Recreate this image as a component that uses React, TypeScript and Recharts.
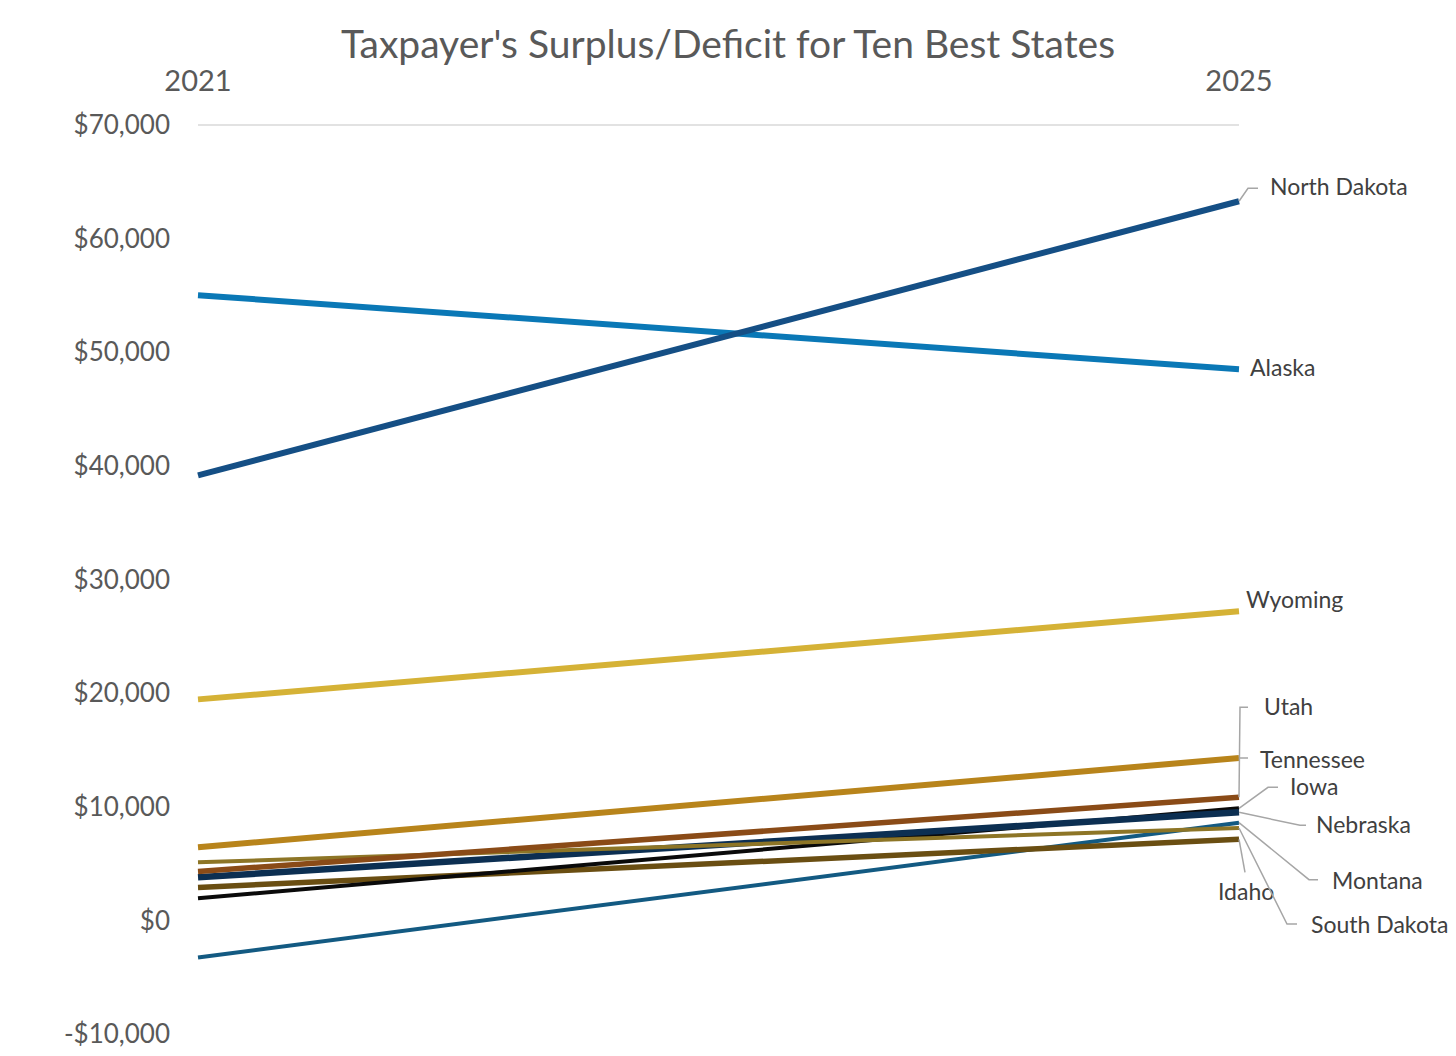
// Taxpayer's surplus/deficit, ten best states, 2021 vs 2025 (slope chart)
import { LineChart, Line, XAxis, YAxis, LabelList } from "recharts";

const years = ["2021", "2025"];
const yTicks = [-10000, 0, 10000, 20000, 30000, 40000, 50000, 60000, 70000];

const northDakota = [39170, 63290];
const alaska = [55020, 48500];
const wyoming = [19450, 27200];
const tennessee = [6430, 14290];
const utah = [4310, 10830];
const iowa = [1940, 9860];
const nebraska = [3790, 9510];
const montana = [-3260, 8600];
const southDakota = [5110, 8130];
const idaho = [2900, 7130];

// drawing order: first is at the bottom
const series = [
  { key: "mt", name: "Montana", values: montana },
  { key: "id", name: "Idaho", values: idaho },
  { key: "ia", name: "Iowa", values: iowa },
  { key: "ne", name: "Nebraska", values: nebraska },
  { key: "sd", name: "South Dakota", values: southDakota },
  { key: "ut", name: "Utah", values: utah },
  { key: "tn", name: "Tennessee", values: tennessee },
  { key: "wy", name: "Wyoming", values: wyoming },
  { key: "ak", name: "Alaska", values: alaska },
  { key: "nd", name: "North Dakota", values: northDakota },
];

const chartData = years.map((year, i) => {
  const row: Record<string, string | number> = { year };
  series.forEach((s) => {
    row[s.key] = s.values[i];
  });
  return row;
});

const lineStyle: Record<string, { color: string; width: number }> = {
  nd: { color: "#154f85", width: 6 },
  ak: { color: "#0a78b6", width: 6 },
  wy: { color: "#d5b236", width: 6 },
  tn: { color: "#b8841b", width: 6 },
  ut: { color: "#8a4b17", width: 5.5 },
  ia: { color: "#0a0a0a", width: 4 },
  ne: { color: "#0c2f52", width: 6.5 },
  mt: { color: "#135a82", width: 4 },
  sd: { color: "#8d7526", width: 4 },
  id: { color: "#6a4e12", width: 5.5 },
};

// label offset from the 2025 point, and leader line bends (relative)
const labelPlace: Record<string, { dx: number; dy: number; leader: number[][] }> = {
  nd: { dx: 31, dy: -14, leader: [[9, -13], [19, -13]] },
  ak: { dx: 11, dy: -1, leader: [] },
  wy: { dx: 7, dy: -11, leader: [] },
  ut: { dx: 25, dy: -90, leader: [[1, -90], [9, -90]] },
  tn: { dx: 21, dy: 2, leader: [[9, 0]] },
  ia: { dx: 51, dy: -21, leader: [[29, -21], [39, -21]] },
  ne: { dx: 77, dy: 13, leader: [[61, 13], [67, 13]] },
  mt: { dx: 93, dy: 58, leader: [[70, 57], [79, 57]] },
  sd: { dx: 72, dy: 97, leader: [[48, 96], [58, 96]] },
  id: { dx: -21, dy: 53, leader: [[6, 33]] },
};

const fmtMoney = (v: number) =>
  v < 0 ? `-$${Math.abs(v).toLocaleString("en-US")}` : `$${v.toLocaleString("en-US")}`;

const font = "Lato, 'Open Sans', sans-serif";

function makeLabel(key: string, name: string) {
  const place = labelPlace[key];
  return (props: any) => {
    if (props.index !== years.length - 1) return null;
    const x = Number(props.x);
    const y = Number(props.y);
    const pts = [[0, 0], ...place.leader].map(([a, b]) => `${x + a},${y + b}`).join(" ");
    return (
      <g>
        {place.leader.length > 0 && (
          <polyline points={pts} fill="none" stroke="#a6a6a6" strokeWidth={1.5} />
        )}
        <text
          x={x + place.dx}
          y={y + place.dy}
          dy="0.35em"
          fontFamily={font}
          fontSize={23}
          fill="#404040"
        >
          {name}
        </text>
      </g>
    );
  };
}

export default function App() {
  return (
    <div style={{ position: "absolute", left: 0, top: 0, width: 1456, height: 1056, background: "#fff" }}>
      <div
        style={{
          position: "absolute",
          left: 0,
          top: 18,
          width: 1456,
          textAlign: "center",
          fontFamily: font,
          fontSize: 39,
          color: "#595959",
          lineHeight: "50px",
        }}
      >
        Taxpayer's Surplus/Deficit for Ten Best States
      </div>
      <LineChart
        width={1456}
        height={1056}
        data={chartData}
        margin={{ top: 0, right: 217, bottom: 22, left: 0 }}
      >
        <XAxis
          dataKey="year"
          orientation="top"
          height={125}
          axisLine={{ stroke: "#d9d9d9", strokeWidth: 1.5 }}
          tickLine={false}
          tickSize={0}
          tickMargin={34}
          tick={{ fill: "#595959", fontSize: 29, fontFamily: font }}
        />
        <YAxis
          width={198}
          domain={[-10000, 70000]}
          ticks={yTicks}
          axisLine={false}
          tickLine={false}
          tickSize={0}
          tickMargin={28}
          tickFormatter={fmtMoney}
          tick={{ fill: "#595959", fontSize: 26, fontFamily: font }}
        />
        {series.map((s) => (
          <Line
            key={s.key}
            dataKey={s.key}
            name={s.name}
            type="linear"
            stroke={lineStyle[s.key].color}
            strokeWidth={lineStyle[s.key].width}
            dot={false}
            activeDot={false}
            isAnimationActive={false}
          >
            <LabelList dataKey={s.key} content={makeLabel(s.key, s.name)} />
          </Line>
        ))}
      </LineChart>
    </div>
  );
}
